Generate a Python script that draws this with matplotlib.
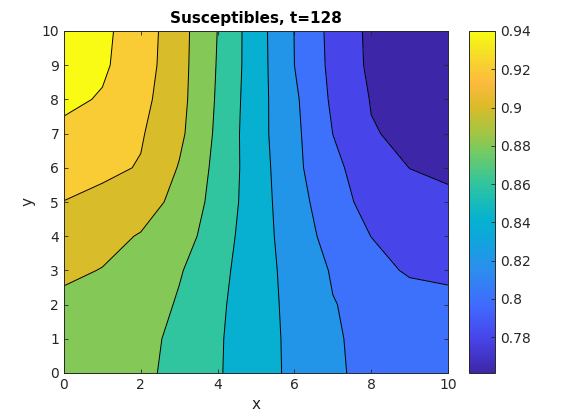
import numpy as np
import matplotlib
matplotlib.use("Agg")
from matplotlib import pyplot as plt
from matplotlib.colors import LinearSegmentedColormap, Normalize
from matplotlib.cm import ScalarMappable

# grid of the field (rows: y = 0..10, columns: x = 0..10)
xs = np.arange(0, 11)
ys = np.arange(0, 11)
S = np.array([
    [0.8895, 0.8875, 0.8850, 0.8734, 0.8618, 0.8486, 0.8357, 0.8217, 0.8170, 0.8123, 0.8075],  # y=0
    [0.8920, 0.8895, 0.8867, 0.8745, 0.8622, 0.8485, 0.8354, 0.8215, 0.8163, 0.8112, 0.8060],  # y=1
    [0.8960, 0.8945, 0.8915, 0.8778, 0.8635, 0.8487, 0.8343, 0.8207, 0.8149, 0.8094, 0.8040],  # y=2
    [0.9033, 0.8994, 0.8902, 0.8817, 0.8658, 0.8488, 0.8329, 0.8183, 0.8069, 0.7975, 0.7970],  # y=3
    [0.9115, 0.9055, 0.8988, 0.8895, 0.8691, 0.8492, 0.8299, 0.8131, 0.7998, 0.7952, 0.7906],  # y=4
    [0.9197, 0.9145, 0.9085, 0.8945, 0.8728, 0.8494, 0.8274, 0.8090, 0.7926, 0.7882, 0.7837],  # y=5
    [0.9275, 0.9245, 0.9187, 0.8988, 0.8746, 0.8493, 0.8250, 0.8040, 0.7909, 0.7798, 0.7765],  # y=6
    [0.9359, 0.9295, 0.9218, 0.9042, 0.8763, 0.8477, 0.8245, 0.7999, 0.7811, 0.7766, 0.7720],  # y=7
    [0.9439, 0.9385, 0.9259, 0.9063, 0.8777, 0.8482, 0.8233, 0.7968, 0.7791, 0.7735, 0.7680],  # y=8
    [0.9450, 0.9427, 0.9294, 0.9071, 0.8788, 0.8490, 0.8200, 0.7950, 0.7763, 0.7690, 0.7640],  # y=9
    [0.9460, 0.9438, 0.9307, 0.9075, 0.8797, 0.8487, 0.8197, 0.7941, 0.7758, 0.7670, 0.7615],  # y=10
])
levels = [0.76, 0.78, 0.80, 0.82, 0.84, 0.86, 0.88, 0.90, 0.92, 0.94, 0.96]
cticks = [0.78, 0.80, 0.82, 0.84, 0.86, 0.88, 0.90, 0.92, 0.94]
cticklabels = ["0.78", "0.8", "0.82", "0.84", "0.86", "0.88", "0.9", "0.92", "0.94"]
cmin, cmax = 0.7612, 0.94

# parula-like colormap
parula = LinearSegmentedColormap.from_list("parula", [
    (0.000, (0.2422, 0.1504, 0.6603)),
    (0.100, (0.2803, 0.2690, 0.9160)),
    (0.200, (0.2500, 0.4200, 0.9950)),
    (0.300, (0.1700, 0.5550, 0.9300)),
    (0.400, (0.0500, 0.6600, 0.8600)),
    (0.450, (0.0200, 0.7000, 0.8100)),
    (0.550, (0.1800, 0.7700, 0.6300)),
    (0.650, (0.4600, 0.7950, 0.3800)),
    (0.700, (0.6300, 0.7750, 0.2700)),
    (0.780, (0.8600, 0.7350, 0.1600)),
    (0.850, (0.9900, 0.7300, 0.2400)),
    (0.900, (0.9750, 0.8100, 0.2000)),
    (0.950, (0.9600, 0.9000, 0.1300)),
    (1.000, (0.9769, 0.9839, 0.0805)),
], N=256)
norm = Normalize(cmin, cmax, clip=True)

dark = "#262626"
plt.rcParams["font.family"] = "DejaVu Sans"

fig = plt.figure(figsize=(5.7, 4.2), dpi=100)
ax = fig.add_axes([64/570, 47/420, 384/570, 342/420])
cax = fig.add_axes([469/570, 47/420, 26/570, 342/420])

X, Y = np.meshgrid(xs, ys)
fill_colors = [parula(norm(l)) for l in levels[:-1]]
ax.contourf(X, Y, S, levels=levels, colors=fill_colors, antialiased=False)
ax.contour(X, Y, S, levels=levels[1:-1], colors="k", linewidths=0.7)

ax.set_xlim(0, 10)
ax.set_ylim(0, 10)
ax.set_xticks(range(0, 11, 2))
ax.set_yticks(range(0, 11))
ax.tick_params(direction="in", top=True, right=True, length=3, width=0.6,
               colors=dark, labelsize=10, labelcolor=dark)
for sp in ax.spines.values():
    sp.set_color(dark)
    sp.set_linewidth(0.7)
ax.set_xlabel("x", fontsize=11, color=dark)
ax.set_ylabel("y", fontsize=11, color=dark)
ax.set_title("Susceptibles, t=128", fontsize=11, fontweight="bold", color="k")

sm = ScalarMappable(norm=Normalize(cmin, cmax), cmap=parula)
cb = fig.colorbar(sm, cax=cax, ticks=cticks)
cb.ax.set_yticklabels(cticklabels)
cb.ax.tick_params(direction="in", length=3, width=0.6, colors=dark,
                  labelsize=10, labelcolor=dark)
cb.outline.set_edgecolor(dark)
cb.outline.set_linewidth(0.7)

plt.savefig("out.png", dpi=100)
plt.close()
